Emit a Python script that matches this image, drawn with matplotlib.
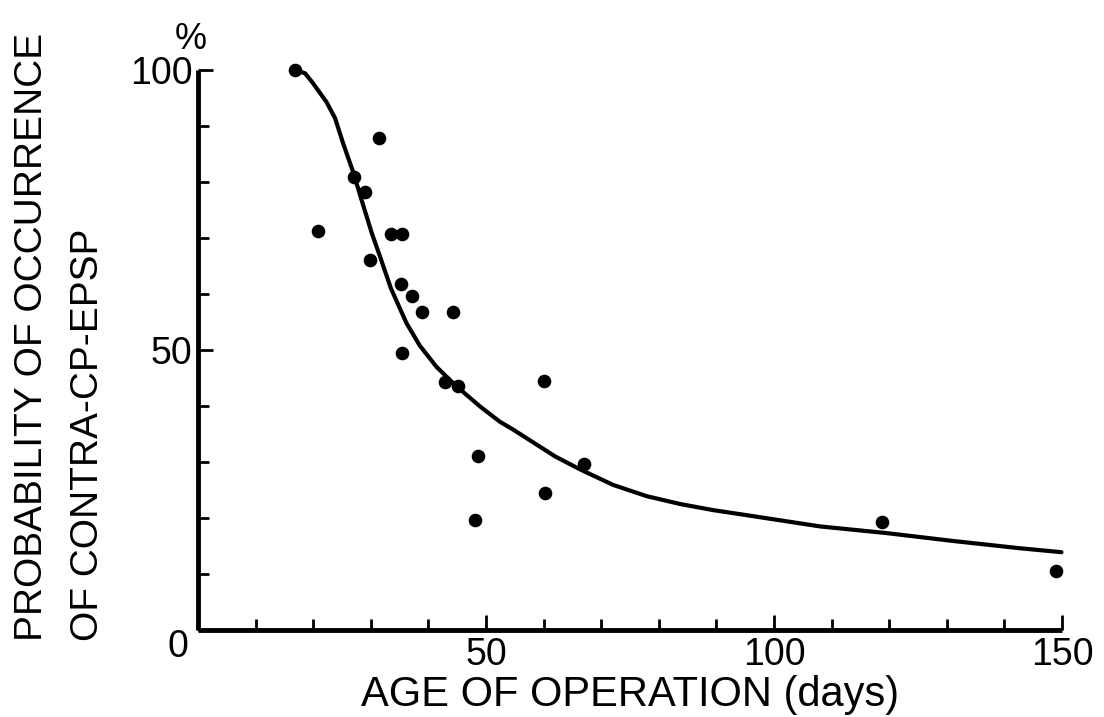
import matplotlib
matplotlib.use("Agg")
import matplotlib.pyplot as plt
from matplotlib.ticker import MultipleLocator, FixedLocator

plt.rcParams['font.family'] = ['Liberation Sans', 'DejaVu Sans']

# Observed probability of occurrence (%) vs. age at operation (days)
age_days = [16.9, 20.9, 27.1, 29.0, 29.9, 31.4, 33.5, 35.4, 35.2, 37.2, 38.9,
            44.2, 35.5, 42.9, 45.2, 60.1, 48.6, 67.0, 60.2, 48.1, 118.7, 149.0]
probability = [100, 71.3, 80.9, 78.2, 66.0, 87.9, 70.8, 70.8, 61.8, 59.6, 56.7,
               56.7, 49.5, 44.3, 43.6, 44.5, 31.1, 29.6, 24.5, 19.6, 19.2, 10.6]

# Hand-fitted trend curve
curve_x = [16.96, 18.6, 20.0, 22.3, 23.8, 25.2, 27.0, 28.4, 30.2, 31.6, 33.5,
           36.2, 38.5, 41.4, 44.3, 46.6, 49.0, 52.4, 54.7, 58.2, 62.0, 66.3,
           72.1, 77.9, 83.7, 89.5, 95.3, 101.0, 108.0, 119.6, 131.1, 142.7, 149.9]
curve_y = [100.0, 99.4, 97.6, 94.3, 91.4, 86.9, 81.6, 76.8, 70.8, 66.7, 61.0,
           54.8, 50.8, 47.0, 44.1, 42.0, 39.9, 37.2, 35.8, 33.5, 31.0, 28.7,
           25.9, 23.9, 22.5, 21.4, 20.5, 19.6, 18.5, 17.3, 15.9, 14.6, 13.9]

x_major = [50, 100, 150]
y_major = [50, 100]

fig = plt.figure(figsize=(11.04, 7.17), dpi=100)
ax = fig.add_axes([0.1793, 0.1213, 0.7827, 0.7811])

ax.plot(curve_x, curve_y, color='black', lw=3.0, solid_joinstyle='round',
        solid_capstyle='round', clip_on=False)
ax.plot(age_days, probability, 'o', color='black', ms=8.8, clip_on=False)

ax.set_xlim(0, 150)
ax.set_ylim(0, 100)
for s in ('top', 'right'):
    ax.spines[s].set_visible(False)
for s in ('left', 'bottom'):
    ax.spines[s].set_linewidth(3.5)
    ax.spines[s].set_capstyle('butt')

ax.xaxis.set_major_locator(FixedLocator(x_major))
ax.yaxis.set_major_locator(FixedLocator(y_major))
ax.xaxis.set_minor_locator(MultipleLocator(10))
ax.yaxis.set_minor_locator(MultipleLocator(10))
ax.tick_params(which='major', direction='in', length=11, width=2.0,
               labelsize=27, pad=5)
ax.tick_params(which='minor', direction='in', length=8, width=2.0)
ax.tick_params(axis='y', which='major', pad=4)
ax.set_xticklabels([str(v) for v in x_major])
ax.set_yticklabels([str(v) for v in y_major])

ax.text(-3.4, -3.0, '0', fontsize=27, ha='center', va='center', clip_on=False)
ax.text(-1.3, 105.5, '%', fontsize=26, ha='center', va='center',
        clip_on=False)

fig.text(0.5707, 0.0307, 'AGE OF OPERATION (days)', fontsize=30,
         ha='center', va='center')
fig.text(0.029, 0.106, 'PROBABILITY OF OCCURRENCE', fontsize=28,
         rotation=90, ha='center', va='bottom')
fig.text(0.080, 0.106, 'OF CONTRA-CP-EPSP', fontsize=28,
         rotation=90, ha='center', va='bottom')

fig.savefig('out.png', dpi=100)
